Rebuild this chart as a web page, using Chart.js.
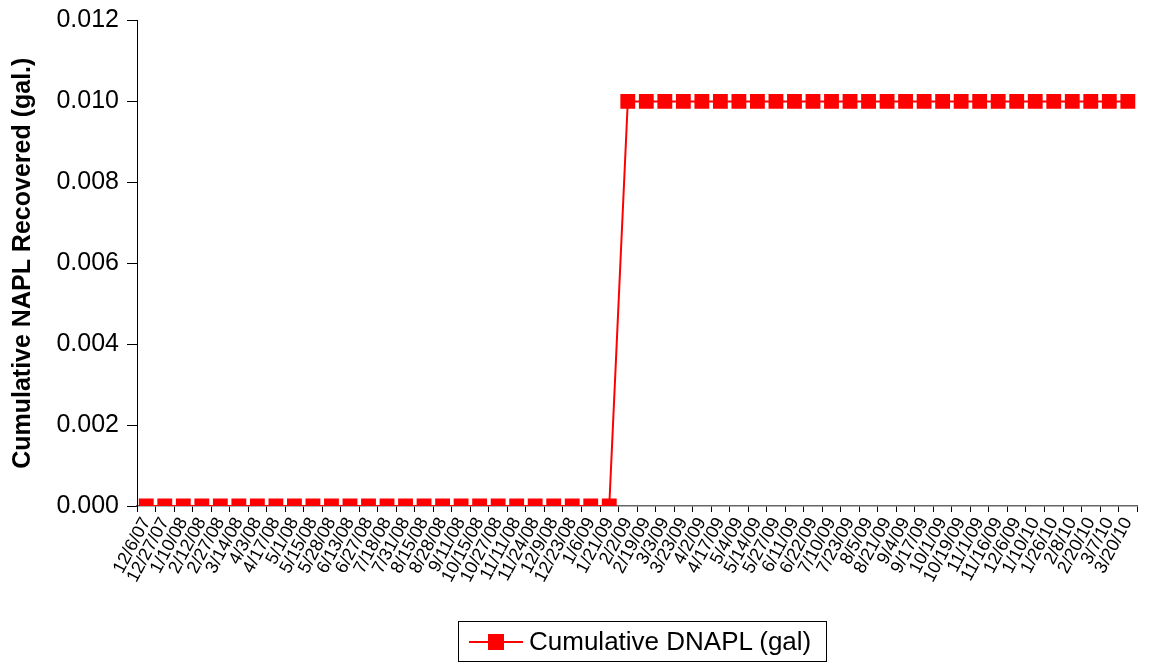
<!DOCTYPE html>
<html>
<head>
<meta charset="utf-8">
<script src="https://cdn.jsdelivr.net/npm/chart.js@4"></script>
<style>
  html, body { margin: 0; padding: 0; background: #fff; }
  #wrap { position: relative; width: 1149px; height: 663px; }
  #legend {
    position: absolute; left: 458px; top: 621px; width: 367px; height: 39px;
    border: 1px solid #000; font-family: "Liberation Sans", Arial, sans-serif;
    font-size: 26px; color: #000; display: flex; align-items: center;
  }
  #legend .line { position: relative; width: 54px; height: 2px; background: #ff0000; margin: 0 6px 0 10px; }
  #legend .mark { position: absolute; left: 19px; top: -7px; width: 16px; height: 16px; background: #ff0000; }
</style>
</head>
<body>
<div id="wrap">
  <canvas id="chart" width="1149" height="663"></canvas>
  <div id="legend"><span class="line"><span class="mark"></span></span><span>Cumulative DNAPL (gal)</span></div>
</div>
<script>
const dates = [
  "12/6/07", "12/27/07", "1/10/08", "2/12/08", "2/27/08", "3/14/08", "4/3/08", "4/17/08",
  "5/1/08", "5/15/08", "5/28/08", "6/13/08", "6/27/08", "7/18/08", "7/31/08", "8/15/08",
  "8/28/08", "9/11/08", "10/15/08", "10/27/08", "11/11/08", "11/24/08", "12/9/08", "12/23/08",
  "1/6/09", "1/21/09", "2/2/09", "2/19/09", "3/3/09", "3/23/09", "4/2/09", "4/17/09",
  "5/4/09", "5/14/09", "5/27/09", "6/11/09", "6/22/09", "7/10/09", "7/23/09", "8/5/09",
  "8/21/09", "9/4/09", "9/17/09", "10/1/09", "10/19/09", "11/1/09", "11/16/09", "12/6/09",
  "1/10/10", "1/26/10", "2/8/10", "2/20/10", "3/7/10", "3/20/10"
];

const cumulativeDnapl = [
  0, 0, 0, 0, 0, 0, 0, 0, 0, 0, 0, 0, 0, 0, 0, 0, 0, 0, 0, 0, 0, 0, 0, 0, 0, 0,
  0.01, 0.01, 0.01, 0.01, 0.01, 0.01, 0.01, 0.01, 0.01, 0.01, 0.01, 0.01, 0.01, 0.01,
  0.01, 0.01, 0.01, 0.01, 0.01, 0.01, 0.01, 0.01, 0.01, 0.01, 0.01, 0.01, 0.01, 0.01
];

const FONT = "'Liberation Sans', Arial, sans-serif";

new Chart(document.getElementById("chart").getContext("2d"), {
  type: "line",
  data: {
    labels: dates,
    datasets: [
      {
        label: "Cumulative DNAPL (gal)",
        data: cumulativeDnapl,
        borderColor: "#ff0000",
        backgroundColor: "#ff0000",
        borderWidth: 2,
        pointStyle: "rect",
        pointRadius: 10.5,
        pointBorderWidth: 0,
        tension: 0
      }
    ]
  },
  options: {
    responsive: false,
    animation: false,
    layout: { padding: { top: 4, right: 1, bottom: 42, left: 0 } },
    plugins: {
      legend: { display: false },
      tooltip: { enabled: false }
    },
    scales: {
      x: {
        offset: true,
        afterFit: (scale) => { scale.height = 115; },
        grid: { offset: true, drawOnChartArea: false, color: "#000", tickLength: 6 },
        border: { color: "#666", width: 1.5 },
        ticks: {
          autoSkip: false,
          minRotation: 62,
          maxRotation: 62,
          padding: 2,
          color: "#000",
          font: { family: FONT, size: 18 }
        }
      },
      y: {
        min: 0,
        max: 0.012,
        afterFit: (scale) => { scale.width = 137; },
        grid: { drawOnChartArea: false, color: "#000", tickLength: 10 },
        border: { color: "#000", width: 1 },
        title: {
          display: true,
          text: "Cumulative NAPL Recovered (gal.)",
          color: "#000",
          font: { family: FONT, size: 25, weight: "bold" },
          padding: { top: 8, bottom: 0 }
        },
        ticks: {
          stepSize: 0.002,
          padding: 8,
          color: "#000",
          font: { family: FONT, size: 25, lineHeight: 1 },
          callback: (value) => value.toFixed(3)
        }
      }
    }
  }
});
</script>
</body>
</html>
